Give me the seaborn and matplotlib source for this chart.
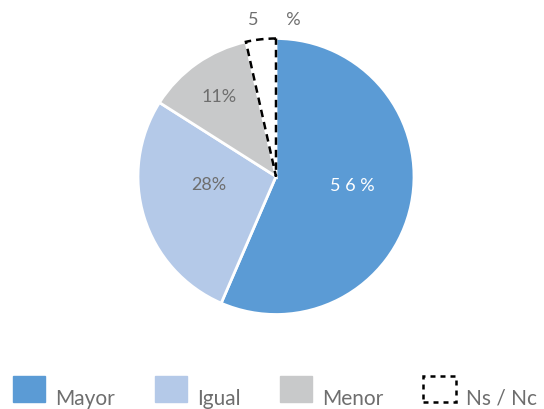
import numpy as np
import matplotlib
matplotlib.use("Agg")
import matplotlib.pyplot as plt
import matplotlib.patches as mpatches
import matplotlib.transforms as mtransforms
import seaborn as sns

# data (slice sizes, labels as printed)
categories = ["Mayor", "Igual", "Menor", "Ns / Nc"]
shares = [56.5, 27.5, 12.5, 3.5]
label_texts = ["5 6 %", "28%", "11%", "5      %"]
colors = ["#5B9BD5", "#B4C9E8", "#C8C9CA", "#FFFFFF"]
label_colors = ["white", "#6E6E6E", "#6E6E6E", "#6E6E6E"]

# label placement: distance from centre and angle shift from slice middle
label_dist = [0.555, 0.49, 0.71, 1.134]
label_shift = [4.6, -10, 0.5, -5.6]

sns.set_theme(style="white")
plt.rcParams['font.family'] = ['Lato', 'DejaVu Sans']

fig = plt.figure(figsize=(5.44, 4.09), dpi=100)
cx, cy, r = 276, 176.5, 138
ax = fig.add_axes([(cx - r) / 544, 1 - (cy + r) / 409, 2 * r / 544, 2 * r / 409])

wedges, _ = ax.pie(shares, colors=colors, startangle=90, counterclock=False,
                   wedgeprops=dict(edgecolor="white", linewidth=2))
# Ns / Nc slice: white with dashed black outline
wedges[-1].set_edgecolor("black")
wedges[-1].set_linestyle((0, (3, 2)))
wedges[-1].set_linewidth(1.8)
wedges[-1].set_zorder(5)

for w, txt, col, d, s in zip(wedges, label_texts, label_colors, label_dist, label_shift):
    ang = np.deg2rad((w.theta1 + w.theta2) / 2 + s)
    ax.text(d * np.cos(ang), d * np.sin(ang), txt, ha="center", va="center",
            color=col, fontsize=13, zorder=10)

ax.set_xlim(-1, 1)
ax.set_ylim(-1, 1)
ax.set_aspect("equal")
ax.axis("off")

handles = []
for c in colors:
    if c == "#FFFFFF":
        handles.append(mpatches.Patch(facecolor="white", edgecolor="black",
                                      linestyle=(0, (2, 2)), linewidth=1.8))
    else:
        handles.append(mpatches.Patch(facecolor=c, edgecolor=c))

leg = fig.legend(handles, categories, loc="upper left", bbox_to_anchor=(13 / 544, 1 - 376 / 409),
                 ncol=4, frameon=False, fontsize=15, labelcolor="#6E6E6E",
                 handlelength=1.55, handleheight=1.55, handletextpad=0.48,
                 columnspacing=1.9, borderpad=0, borderaxespad=0)
# text sits low next to the square, as in the original
for t in leg.get_texts():
    t.set_transform(t.get_transform() + mtransforms.Affine2D().translate(0, -9))

fig.savefig("out.png", dpi=100)
